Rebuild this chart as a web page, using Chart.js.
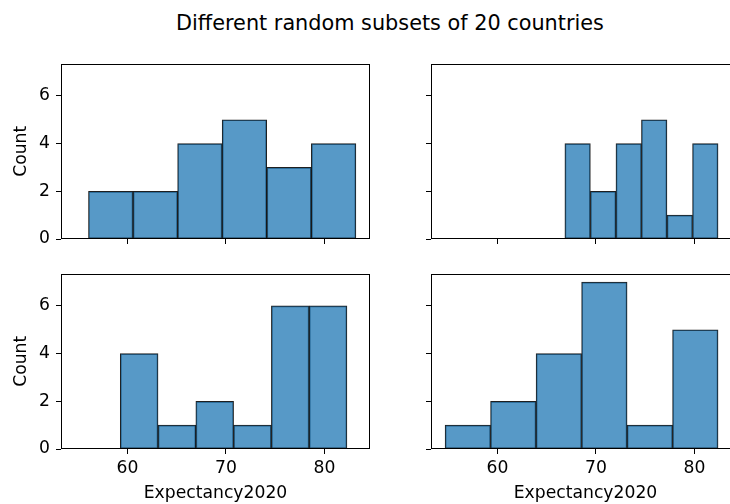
<!DOCTYPE html>
<html>
<head>
<meta charset="utf-8">
<script src="https://cdn.jsdelivr.net/npm/chart.js@4/dist/chart.umd.min.js"></script>
<style>
  html, body { margin:0; padding:0; background:#fff; overflow:hidden; width:730px; height:504px; }
  canvas { position:absolute; left:0; top:0; }
  #title { position:absolute; left:0; top:12px; width:780px; text-align:center;
           font-family:"DejaVu Sans", sans-serif; font-size:20.8px; line-height:22px; color:#000; }
</style>
</head>
<body>
<div id="title">Different random subsets of 20 countries</div>
<canvas id="c1" width="750" height="504"></canvas>
<canvas id="c2" width="750" height="504"></canvas>
<canvas id="c3" width="750" height="504"></canvas>
<canvas id="c4" width="750" height="504"></canvas>
<script>
// ---- data ----
const xTicks = [60, 70, 80];
const yTicks = [0, 2, 4, 6];
const xLabel = 'Expectancy2020';
const yLabel = 'Count';

// bin edges (life expectancy) and counts per random subset
const edgesTL = [56.03, 60.56, 65.09, 69.61, 74.14, 78.67, 83.20];
const countsTL = [2, 2, 4, 5, 3, 4];
const edgesTR = [66.84, 69.43, 72.03, 74.62, 77.21, 79.81, 82.40];
const countsTR = [4, 2, 4, 5, 1, 4];
const edgesBL = [59.26, 63.10, 66.94, 70.77, 74.61, 78.45, 82.29];
const countsBL = [4, 1, 2, 1, 6, 6];
const edgesBR = [54.67, 59.29, 63.91, 68.54, 73.16, 77.78, 82.40];
const countsBR = [1, 2, 4, 7, 1, 5];

// ---- layout / style ----
const X_MIN = 53.24, X_MAX = 84.63, Y_MAX = 7.35;
const FONT = { family: '"DejaVu Sans", sans-serif', size: 17.2 };

const boxPlugin = {
  id: 'box',
  afterDraw(chart) {
    const a = chart.chartArea, ctx = chart.ctx;
    ctx.save();
    ctx.strokeStyle = '#000';
    ctx.lineWidth = 1;
    const l = Math.round(a.left) + 0.5, t = Math.round(a.top) + 0.5;
    const r = Math.round(a.right) - 0.5, b = Math.round(a.bottom) - 0.5;
    ctx.strokeRect(l, t, r - l, b - t);
    ctx.restore();
  }
};

function makeChart(id, edges, counts, o) {
  const data = counts.map((c, i) => ({ x: (edges[i] + edges[i + 1]) / 2, y: c }));
  new Chart(document.getElementById(id), {
    type: 'bar',
    data: { datasets: [{
      data,
      backgroundColor: 'rgba(31,119,180,0.75)',
      borderColor: 'rgba(0,0,0,0.88)',
      borderWidth: 1,
      borderSkipped: false,
      barPercentage: 1,
      categoryPercentage: 1
    }]},
    options: {
      responsive: false,
      animation: false,
      devicePixelRatio: 1,
      layout: { padding: o.padding },
      plugins: { legend: { display: false }, tooltip: { enabled: false }, title: { display: false } },
      scales: {
        x: {
          type: 'linear', min: X_MIN, max: X_MAX, offset: false,
          afterBuildTicks: s => { s.ticks = xTicks.map(v => ({ value: v })); },
          afterFit: s => { s.height = o.xH; },
          grid: { offset: false, drawOnChartArea: false, drawTicks: true, tickLength: 5, tickColor: '#000', tickWidth: 1 },
          border: { display: false },
          ticks: { display: o.xLabels, padding: 4.5, color: '#000', font: FONT, maxRotation: 0, autoSkip: false },
          title: { display: o.xLabels, text: xLabel, color: '#000', font: FONT, padding: { top: 0, bottom: 0 } }
        },
        y: {
          min: 0, max: Y_MAX,
          afterBuildTicks: s => { s.ticks = yTicks.map(v => ({ value: v })); },
          afterFit: s => { s.width = o.yW; },
          grid: { drawOnChartArea: false, drawTicks: true, tickLength: 5, tickColor: '#000', tickWidth: 1 },
          border: { display: false },
          ticks: { display: o.yLabels, padding: 6, color: '#000', font: FONT, autoSkip: false },
          title: { display: o.yLabels, text: yLabel, color: '#000', font: FONT, padding: { top: 5, bottom: 0 } }
        }
      }
    },
    plugins: [boxPlugin]
  });
}

makeChart('c1', edgesTL, countsTL, { padding: { left: 6, top: 63.7, right: 380, bottom: 255 }, xH: 10, yW: 55, xLabels: false, yLabels: true });
makeChart('c2', edgesTR, countsTR, { padding: { left: 421, top: 63.7, right: 10, bottom: 255 }, xH: 10, yW: 10, xLabels: false, yLabels: false });
makeChart('c3', edgesBL, countsBL, { padding: { left: 6, top: 273.7, right: 380, bottom: 0 }, xH: 55, yW: 55, xLabels: true, yLabels: true });
makeChart('c4', edgesBR, countsBR, { padding: { left: 421, top: 273.7, right: 10, bottom: 0 }, xH: 55, yW: 10, xLabels: true, yLabels: false });
</script>
</body>
</html>
